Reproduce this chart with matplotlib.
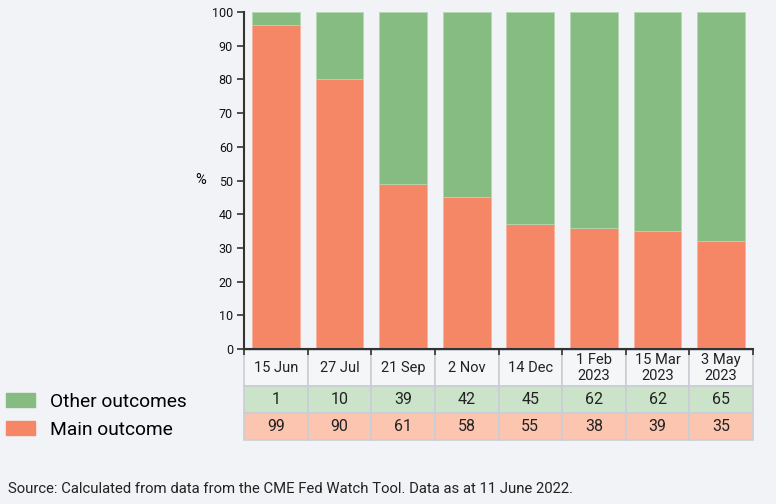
import matplotlib.pyplot as plt
from matplotlib.patches import Patch

plt.rcParams['font.family'] = ['Roboto', 'DejaVu Sans']

# dates of the meetings
dates = ['15 Jun', '27 Jul', '21 Sep', '2 Nov', '14 Dec', '1 Feb\n2023', '15 Mar\n2023', '3 May\n2023']
# bar heights as drawn (%)
main_bar = [96, 80, 49, 45, 37, 36, 35, 32]
other_bar = [100 - v for v in main_bar]
# numbers printed in the table
other_tab = [1, 10, 39, 42, 45, 62, 62, 65]
main_tab = [99, 90, 61, 58, 55, 38, 39, 35]

green = '#86bc82'
orange = '#f58767'
green_light = '#cbe3c8'
orange_light = '#fbc5b0'
bg = '#f2f3f6'
dark = '#333333'

fig = plt.figure(figsize=(7.76, 5.04), dpi=100, facecolor=bg)
ax = fig.add_axes([244/776, 155/504, 509/776, 337/504], facecolor=bg)

x = list(range(len(dates)))
ax.bar(x, main_bar, width=0.75, color=orange, edgecolor='#f7b4a0', linewidth=0.6)
ax.bar(x, other_bar, bottom=main_bar, width=0.75, color=green, edgecolor='#b5d8b2', linewidth=0.6)

ax.set_xlim(-0.5, len(dates) - 0.5)
ax.set_ylim(0, 100)
ax.set_yticks(range(0, 101, 10))
ax.tick_params(axis='y', length=5, width=1.2, color=dark, labelsize=9, pad=3, labelcolor='#111111')
ax.set_xticks([])
ax.set_xticks([i - 0.5 for i in range(len(dates) + 1)], minor=True)
ax.tick_params(axis='x', which='minor', length=4, width=1.2, color=dark)
for s in ['top', 'right']:
    ax.spines[s].set_visible(False)
for s in ['left', 'bottom']:
    ax.spines[s].set_color(dark)
    ax.spines[s].set_linewidth(1.5)
ax.set_ylabel('%', rotation=0, fontsize=10.5, labelpad=8, va='center')

# table under the bars
tab = ax.table(cellText=[dates, [str(v) for v in other_tab], [str(v) for v in main_tab]],
               cellColours=[['#f5f6f8'] * 8, [green_light] * 8, [orange_light] * 8],
               cellLoc='center', bbox=[0, -0.270, 1, 0.266])
tab.auto_set_font_size(False)
for (r, c), cell in tab.get_celld().items():
    cell.set_edgecolor('#c9ced6')
    cell.set_linewidth(1.2)
    cell.set_height(36 if r == 0 else 27)
    cell.get_text().set_fontsize(10.5 if r == 0 else 11.5)
    cell.get_text().set_color('#222222')

fig.legend(handles=[Patch(color=green), Patch(color=orange)],
           labels=['Other outcomes', 'Main outcome'],
           loc='upper left', bbox_to_anchor=(6/776, 1 - 393/504), frameon=False,
           borderpad=0, borderaxespad=0,
           fontsize=13.8, handlelength=1.5, handleheight=0.75, handletextpad=0.8, labelspacing=0.5)

fig.text(8/776, 1 - 489/504, 'Source: Calculated from data from the CME Fed Watch Tool. Data as at 11 June 2022.',
         fontsize=10.7, va='center', color='#222222')

fig.savefig('out.png', dpi=100, facecolor=bg)
